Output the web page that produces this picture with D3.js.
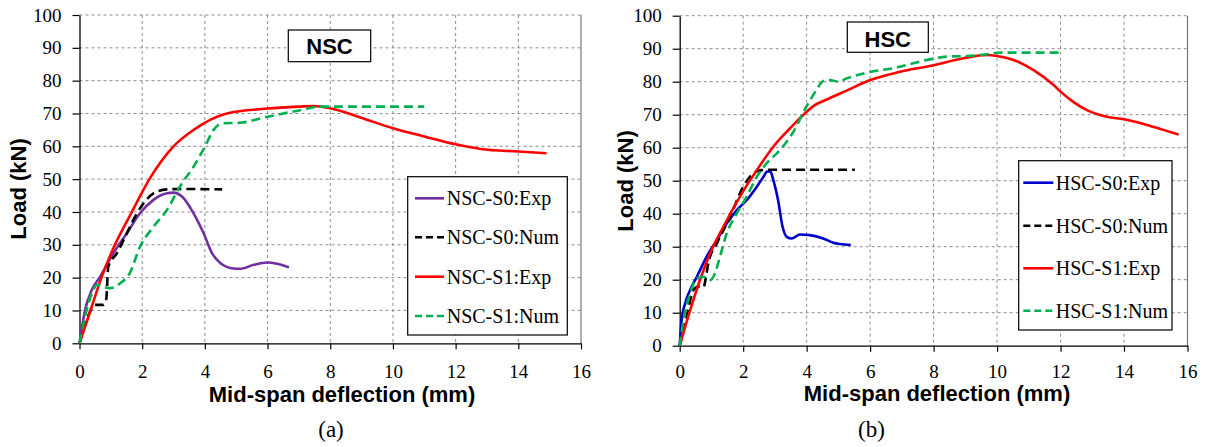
<!DOCTYPE html>
<html><head><meta charset="utf-8">
<script src="https://cdn.jsdelivr.net/npm/d3@7/dist/d3.min.js"></script>
<style>
html,body{margin:0;padding:0;background:#fff;}
svg{display:block;}
</style></head>
<body>
<script>
// ---------- data ----------
const xTicks = [0,2,4,6,8,10,12,14,16];
const yTicks = [0,10,20,30,40,50,60,70,80,90,100];

const nscLegend = ["NSC-S0:Exp","NSC-S0:Num","NSC-S1:Exp","NSC-S1:Num"];
const hscLegend = ["HSC-S0:Exp","HSC-S0:Num","HSC-S1:Exp","HSC-S1:Num"];

const nscS0Exp = [[0,0],[0.18,10.2],[0.39,16.2],[0.66,20.3],[1.08,27.4],[1.51,33.5],[1.93,39.6],[2.36,43.7],[2.79,45.7],[3.0,45.9],[3.27,44.7],[3.64,39.6],[3.96,33.5],[4.23,27.4],[4.5,24.4],[4.92,22.8],[5.13,22.7],[5.56,23.9],[6.0,24.6],[6.3,24.2],[6.68,23.1]];
const nscS0Num = [[0,0],[0.23,7.1],[0.5,11.7],[0.76,11.7],[0.85,13.2],[0.92,23.4],[1.19,27.4],[1.51,33.5],[1.83,39.6],[2.04,42.6],[2.36,45.7],[2.79,46.9],[3.2,47],[4.55,46.9]];
const nscS1Exp = [[0,0],[0.35,10],[0.7,20],[1.13,30],[1.67,40],[2.23,50],[3.0,60],[3.64,65],[4.7,70],[6.0,71.5],[7.0,72.1],[7.47,72.3],[8,71.6],[8.96,68.8],[10,65.5],[11,63],[12,60.6],[12.8,59.2],[14,58.4],[14.9,57.9]];
const nscS1Num = [[0,0],[0.2,9],[0.44,16.2],[0.55,17.8],[0.82,17],[0.97,16.8],[1.3,18.3],[1.6,21.3],[1.93,29.4],[2.36,35.5],[2.79,40.6],[3.2,47.7],[3.64,53.8],[4.0,59.9],[4.28,65],[4.55,67],[5.13,67.2],[6,69],[7.04,71],[7.7,72.1],[11.0,72.1]];

const hscS0Exp = [[0,0],[0.06,7.8],[0.17,12.8],[0.33,16.9],[0.54,20.9],[0.85,27],[1.17,32],[1.48,37],[1.8,41.1],[2.11,44.1],[2.43,48.2],[2.64,51.2],[2.74,52.7],[2.85,52.9],[2.95,50.2],[3.1,44.1],[3.24,36.1],[3.37,33],[3.53,32.5],[3.79,33.7],[4.1,33.5],[4.52,32.5],[4.84,31.2],[5.05,30.8],[5.39,30.5]];
const hscS0Num = [[0,0],[0.22,8.8],[0.43,16.9],[0.59,17.9],[0.75,17.7],[0.83,20.9],[0.9,25],[1.17,31],[1.59,39.1],[2.0,48.2],[2.32,52.2],[2.58,53.2],[2.74,53.3],[5.52,53.3]];
const hscS1Exp = [[0,0],[0.33,10.8],[0.64,19.9],[0.96,28],[1.38,36.1],[1.9,45.2],[2.43,53.2],[2.95,60.3],[3.48,65.9],[4.0,70.9],[4.21,72.6],[4.63,74.6],[5.26,77.3],[6.0,80.5],[6.94,83],[8,85],[8.94,87.1],[9.68,88.1],[10,87.8],[10.52,86.6],[11.15,83.5],[11.78,79],[12,77],[12.4,73.9],[12.83,71.4],[13.46,69.4],[14,68.6],[14.72,66.9],[15.24,65.4],[15.72,64]];
const hscS1Num = [[0,0],[0.12,7.8],[0.33,15.9],[0.54,20.4],[0.75,20.9],[0.96,19.9],[1.11,21.9],[1.27,27],[1.48,34],[1.8,40.1],[2.11,45.2],[2.43,51.2],[2.74,55.3],[3.16,59.3],[3.58,64.8],[4.0,72.6],[4.31,77.5],[4.52,80.2],[4.73,80.5],[5.0,80],[5.26,81],[5.89,82.7],[6.94,84.5],[7.37,85.6],[8.42,87.6],[9.05,87.8],[9.68,88.3],[10.1,88.8],[12,88.8]];

// ---------- drawing ----------
const W = 1205, H = 447;
const svg = d3.select("body").append("svg").attr("width", W).attr("height", H);
const serif = "'Liberation Serif','Times New Roman',serif";
const sans = "'Liberation Sans',Arial,sans-serif";

const styles = [
  {dash:null},{dash:"9,5"},{dash:null},{dash:"9,5"}
];

function panel(cfg){
  const x = d3.scaleLinear().domain([0,16]).range([cfg.x0, cfg.x1]);
  const y = d3.scaleLinear().domain([0,100]).range([cfg.yb, cfg.yt]);
  const g = svg.append("g");

  // grid
  g.selectAll(".hg").data(yTicks.filter(d=>d>0)).enter().append("line")
    .attr("x1", cfg.x0).attr("x2", cfg.x1)
    .attr("y1", d=>y(d)).attr("y2", d=>y(d))
    .attr("stroke","#8c8c8c").attr("stroke-width",1).attr("stroke-dasharray","3,3");
  g.selectAll(".vg").data(xTicks.filter(d=>d>0 && d<16)).enter().append("line")
    .attr("x1", d=>x(d)).attr("x2", d=>x(d))
    .attr("y1", cfg.yt).attr("y2", cfg.yb)
    .attr("stroke","#8c8c8c").attr("stroke-width",1).attr("stroke-dasharray","3,3");
  g.append("line").attr("x1",x(16)).attr("x2",x(16)).attr("y1",cfg.yt).attr("y2",cfg.yb)
    .attr("stroke","#777").attr("stroke-width",1.2);

  // axes
  const ya = g.append("g").attr("transform",`translate(${cfg.x0},0)`)
    .call(d3.axisLeft(y).tickValues(yTicks).tickSize(7).tickPadding(11).tickSizeOuter(0));
  ya.select(".domain").attr("stroke","#000").attr("stroke-width",1.3);
  ya.selectAll(".tick line").attr("stroke","#000").attr("stroke-width",1.2);
  ya.selectAll("text").attr("font-family",serif).attr("font-size",19).attr("fill","#000");

  const xa = g.append("g").attr("transform",`translate(0,${cfg.yb})`)
    .call(d3.axisBottom(x).tickValues(xTicks).tickSize(6).tickPadding(cfg.xpad).tickSizeOuter(0));
  xa.select(".domain").attr("stroke","#000").attr("stroke-width",1.3);
  xa.selectAll(".tick line").attr("stroke","#000").attr("stroke-width",1.2);
  xa.selectAll("text").attr("font-family",serif).attr("font-size",19).attr("fill","#000");

  // lines
  const line = d3.line().x(d=>x(d[0])).y(d=>y(d[1])).curve(d3.curveMonotoneX);
  cfg.series.forEach((s,i)=>{
    g.append("path").datum(s).attr("d",line).attr("fill","none")
      .attr("stroke",cfg.colors[i]).attr("stroke-width",2.6)
      .attr("stroke-dasharray",styles[i].dash).attr("stroke-linejoin","round");
  });

  // tag box
  g.append("rect").attr("x",cfg.tag.x).attr("y",cfg.tag.y).attr("width",cfg.tag.w).attr("height",cfg.tag.h)
    .attr("fill","#fff").attr("stroke","#000").attr("stroke-width",1.2);
  g.append("text").attr("x",cfg.tag.x+cfg.tag.w/2).attr("y",cfg.tag.base)
    .attr("text-anchor","middle").attr("font-family",sans).attr("font-weight","bold")
    .attr("font-size",22).text(cfg.tag.text);

  // legend
  const L = cfg.legend;
  g.append("rect").attr("x",L.x).attr("y",L.y).attr("width",L.w).attr("height",L.h)
    .attr("fill","#fff").attr("stroke","#000").attr("stroke-width",1.2);
  cfg.names.forEach((n,i)=>{
    const cy = L.rows[i];
    g.append("line").attr("x1",L.lx1).attr("x2",L.lx2).attr("y1",cy).attr("y2",cy)
      .attr("stroke",cfg.colors[i]).attr("stroke-width",2.6)
      .attr("stroke-dasharray",styles[i].dash ? "7,4" : null);
    g.append("text").attr("x",L.tx).attr("y",cy+6.8).attr("font-family",serif)
      .attr("font-size",20).attr("fill","#000").text(n);
  });

  // axis titles
  g.append("text").attr("x",cfg.xt.x).attr("y",cfg.xt.y).attr("text-anchor","middle")
    .attr("font-family",sans).attr("font-weight","bold").attr("font-size",22)
    .text("Mid-span deflection (mm)");
  g.append("text").attr("transform",`translate(${cfg.yt2.x},${cfg.yt2.y}) rotate(-90)`)
    .attr("text-anchor","middle").attr("font-family",sans).attr("font-weight","bold")
    .attr("font-size",22).text("Load (kN)");
  g.append("text").attr("x",cfg.cap.x).attr("y",cfg.cap.y).attr("text-anchor","middle")
    .attr("font-family",serif).attr("font-size",23).text(cfg.cap.text);
}

panel({
  x0:79.5, x1:581, yt:15, yb:343.3, xpad:15,
  series:[nscS0Exp,nscS0Num,nscS1Exp,nscS1Num],
  colors:["#7030A0","#000000","#FF0000","#00B050"],
  names:nscLegend,
  tag:{x:288.3,y:30,w:82.4,h:31.7,base:54,text:"NSC"},
  legend:{x:407.7,y:176.7,w:159.6,h:158.3,rows:[198.3,237.3,276.7,316],lx1:415,lx2:444,tx:446.7},
  xt:{x:342,y:402},
  yt2:{x:26,y:189},
  cap:{x:331,y:437,text:"(a)"}
});
panel({
  x0:679.7, x1:1187.5, yt:15.7, yb:345.7, xpad:12.5,
  series:[hscS0Exp,hscS0Num,hscS1Exp,hscS1Num],
  colors:["#0000CC","#000000","#FF0000","#00B050"],
  names:hscLegend,
  tag:{x:847.3,y:22,w:81,h:30.3,base:46.7,text:"HSC"},
  legend:{x:1018.7,y:160.7,w:153.3,h:169.3,rows:[182.7,225.7,268.3,310.7],lx1:1023.3,lx2:1053.3,tx:1055.7},
  xt:{x:937,y:401},
  yt2:{x:633,y:181},
  cap:{x:871.5,y:437,text:"(b)"}
});
</script>
</body></html>
